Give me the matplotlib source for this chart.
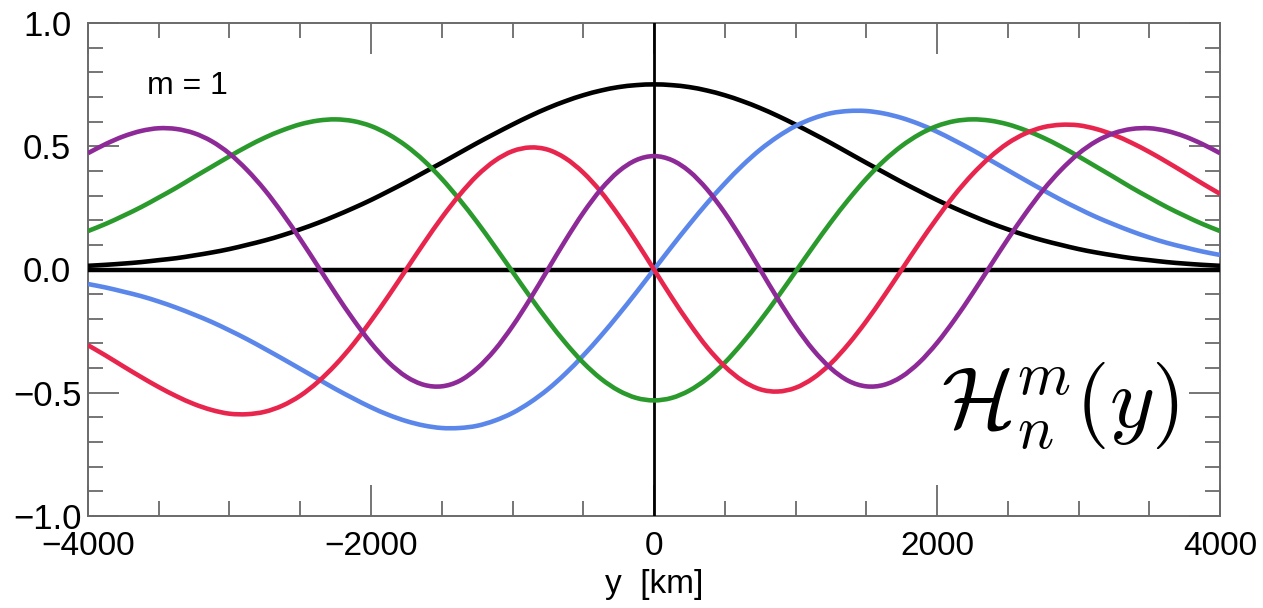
import numpy as np
import matplotlib
matplotlib.use("Agg")
import matplotlib.pyplot as plt
from matplotlib.ticker import MultipleLocator
from matplotlib.path import Path
from matplotlib.patches import PathPatch

plt.rcParams["font.family"] = ["Liberation Sans", "DejaVu Sans"]
plt.rcParams["mathtext.fontset"] = "cm"

# meridional coordinate [km], sampled every 125 km
y_km = np.arange(-4000, 4001, 125)

# Hermite functions n = 0..4 (m = 1)
h0 = [0.015, 0.019, 0.024, 0.030, 0.038, 0.046, 0.057, 0.069, 0.083, 0.100, 0.118,
      0.139, 0.163, 0.189, 0.218, 0.249, 0.282, 0.318, 0.355, 0.394, 0.433, 0.473,
      0.513, 0.551, 0.588, 0.623, 0.655, 0.683, 0.707, 0.726, 0.740, 0.748,
      0.751,
      0.748, 0.740, 0.726, 0.707, 0.683, 0.655, 0.623, 0.588, 0.551, 0.513, 0.473,
      0.433, 0.394, 0.355, 0.318, 0.282, 0.249, 0.218, 0.189, 0.163, 0.139, 0.118,
      0.100, 0.083, 0.069, 0.057, 0.046, 0.038, 0.030, 0.024, 0.019, 0.015]

h1 = [-0.059, -0.073, -0.090, -0.108, -0.130, -0.155, -0.183, -0.213, -0.247, -0.283,
      -0.322, -0.362, -0.403, -0.444, -0.485, -0.523, -0.559, -0.590, -0.615, -0.633,
      -0.643, -0.643, -0.634, -0.613, -0.582, -0.539, -0.486, -0.422, -0.349, -0.269,
      -0.183, -0.093,
      0.000,
      0.093, 0.183, 0.269, 0.349, 0.422, 0.486, 0.539, 0.582, 0.613, 0.634, 0.643,
      0.643, 0.633, 0.615, 0.590, 0.559, 0.523, 0.485, 0.444, 0.403, 0.362, 0.322,
      0.283, 0.247, 0.213, 0.183, 0.155, 0.130, 0.108, 0.090, 0.073, 0.059]

h2 = [0.156, 0.185, 0.218, 0.253, 0.292, 0.332, 0.375, 0.417, 0.459, 0.499, 0.535,
      0.565, 0.589, 0.604, 0.609, 0.602, 0.582, 0.548, 0.501, 0.441, 0.368, 0.284,
      0.192, 0.093, -0.009, -0.111, -0.208, -0.298, -0.378, -0.443, -0.491, -0.521,
      -0.531,
      -0.521, -0.491, -0.443, -0.378, -0.298, -0.208, -0.111, -0.009, 0.093, 0.192,
      0.284, 0.368, 0.441, 0.501, 0.548, 0.582, 0.602, 0.609, 0.604, 0.589, 0.565,
      0.535, 0.499, 0.459, 0.417, 0.375, 0.332, 0.292, 0.253, 0.218, 0.185, 0.156]

h3 = [-0.307, -0.349, -0.393, -0.436, -0.477, -0.514, -0.546, -0.570, -0.585, -0.587,
      -0.577, -0.552, -0.512, -0.456, -0.386, -0.303, -0.208, -0.106, 0.001, 0.108,
      0.210, 0.302, 0.381, 0.441, 0.480, 0.495, 0.486, 0.451, 0.393, 0.315, 0.219,
      0.113,
      0.000,
      -0.113, -0.219, -0.315, -0.393, -0.451, -0.486, -0.495, -0.480, -0.441, -0.381,
      -0.302, -0.210, -0.108, -0.001, 0.106, 0.208, 0.303, 0.386, 0.456, 0.512,
      0.552, 0.577, 0.587, 0.585, 0.570, 0.546, 0.514, 0.477, 0.436, 0.393, 0.349,
      0.307]

h4 = [0.472, 0.509, 0.540, 0.562, 0.573, 0.570, 0.553, 0.520, 0.470, 0.403, 0.322,
      0.227, 0.123, 0.013, -0.098, -0.203, -0.298, -0.377, -0.435, -0.468, -0.474,
      -0.452, -0.401, -0.326, -0.230, -0.119, 0.000, 0.119, 0.230, 0.325, 0.398,
      0.444,
      0.460,
      0.444, 0.398, 0.325, 0.230, 0.119, 0.000, -0.119, -0.230, -0.326, -0.401,
      -0.452, -0.474, -0.468, -0.435, -0.377, -0.298, -0.203, -0.098, 0.013, 0.123,
      0.227, 0.322, 0.403, 0.470, 0.520, 0.553, 0.570, 0.573, 0.562, 0.540, 0.509,
      0.472]

series = [h0, h1, h2, h3, h4]
colors = ["#000000", "#5b87ea", "#2a9a2c", "#e8264d", "#8e2a98"]

xticks = [-4000, -2000, 0, 2000, 4000]
yticks = [-1.0, -0.5, 0.0, 0.5, 1.0]


def smooth_curve(x, y):
    """Cubic Bezier path passing through every sample (Catmull-Rom tangents)."""
    p = np.column_stack([np.asarray(x, float), np.asarray(y, float)])
    t = np.empty_like(p)
    t[1:-1] = (p[2:] - p[:-2]) / 2.0
    t[0] = p[1] - p[0]
    t[-1] = p[-1] - p[-2]
    verts = [p[0]]
    codes = [Path.MOVETO]
    for i in range(len(p) - 1):
        verts += [p[i] + t[i] / 3.0, p[i + 1] - t[i + 1] / 3.0, p[i + 1]]
        codes += [Path.CURVE4] * 3
    return Path(verts, codes)


fig = plt.figure(figsize=(12.63, 6.08), dpi=100)
ax = fig.add_axes([88 / 1263, 1 - 516 / 608, (1220 - 88) / 1263, (516 - 23) / 608])

# reference axes through the origin
ax.axhline(0, color="black", lw=3.2, zorder=3)
ax.axvline(0, color="black", lw=2.0, zorder=3)

for vals, c in zip(series, colors):
    patch = PathPatch(smooth_curve(y_km, vals), facecolor="none", edgecolor=c,
                      lw=3.3, joinstyle="round", capstyle="butt", zorder=4)
    ax.add_patch(patch)

ax.set_xlim(-4000, 4000)
ax.set_ylim(-1.0, 1.0)
ax.set_xticks(xticks)
ax.set_xticklabels([f"{t}".replace("-", "\u2212") for t in xticks])
ax.set_yticks(yticks)
ax.set_yticklabels([f"{t:.1f}".replace("-", "\u2212") for t in yticks])
ax.xaxis.set_minor_locator(MultipleLocator(500))
ax.yaxis.set_minor_locator(MultipleLocator(0.1))

spine_col = "#6a6a6a"
for s in ax.spines.values():
    s.set_color(spine_col)
    s.set_linewidth(1.4)

ax.tick_params(which="both", direction="in", top=True, right=True,
               color=spine_col, width=1.3)
ax.tick_params(which="major", length=22)
ax.tick_params(which="minor", length=11)
ax.tick_params(axis="y", which="major", pad=29.5, labelsize=25)
ax.tick_params(axis="x", which="major", pad=11, labelsize=24)
for lbl in ax.get_yticklabels():
    lbl.set_horizontalalignment("center")

ax.set_xlabel("y  [km]", fontsize=24, labelpad=5)

ax.text(-3300, 0.745, "m = 1", fontsize=23, ha="center", va="center")
ax.text(2870, -0.55, r"$\mathcal{H}_n^m(y)$", fontsize=62, ha="center", va="center")

fig.savefig("out.png", dpi=100)
